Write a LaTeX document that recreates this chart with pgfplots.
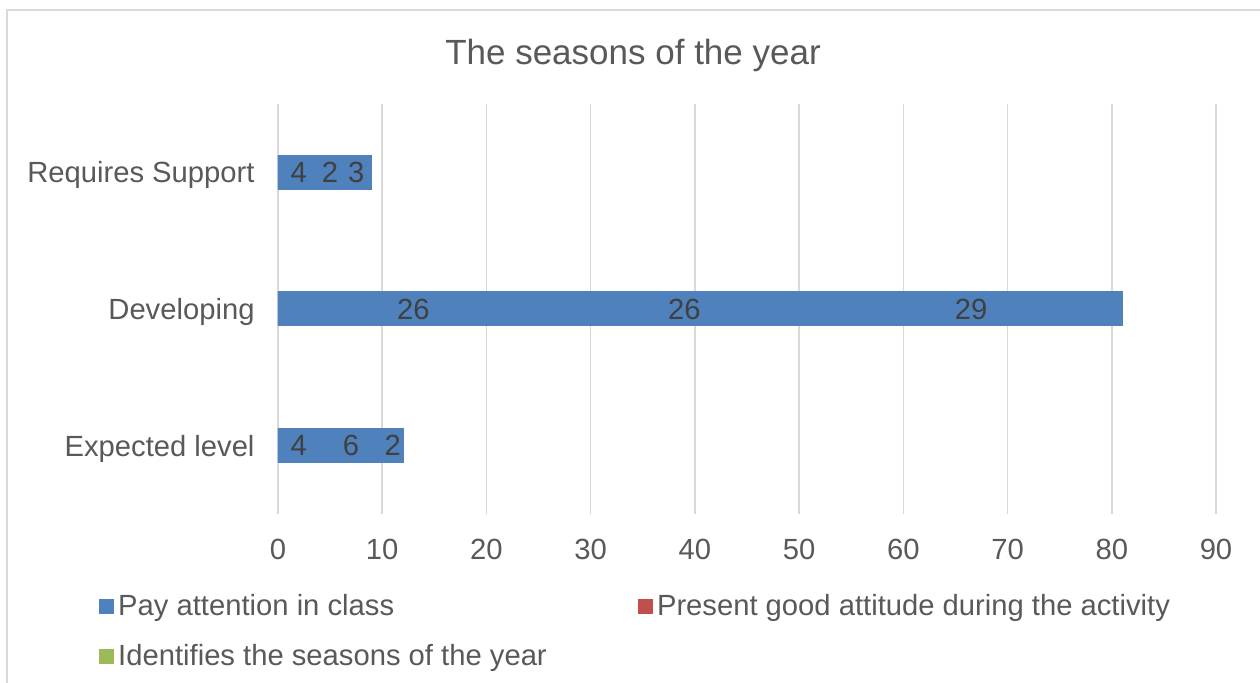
\documentclass[border=0pt]{standalone}
\usepackage{pgfplots}
\pgfplotsset{compat=1.18}
\usepackage{fontspec}
\setmainfont{Liberation Sans}
\definecolor{barblue}{HTML}{4F81BD}
\definecolor{barred}{HTML}{C0504D}
\definecolor{bargreen}{HTML}{9BBB59}
\definecolor{gridgray}{HTML}{D9D9D9}
\definecolor{textgray}{HTML}{595959}
\definecolor{labelgray}{HTML}{404040}
\begin{document}
\begin{tikzpicture}
\useasboundingbox (0,0) rectangle (630pt,341.5pt);
\fill[white] (0,0) rectangle (630pt,341.5pt);
\draw[gridgray, line width=1pt] (3.5pt,-20pt) rectangle (660pt,336.5pt);
\begin{axis}[
  at={(139pt,84.5pt)}, anchor=south west,
  scale only axis, width=469pt, height=205pt,
  xbar stacked, bar width=17pt,
  xmin=0, xmax=90, ymin=-0.5, ymax=2.5,
  ytick={0,1,2},
  yticklabels={Expected level, Developing, Requires Support},
  xtick={0,10,...,90},
  xmajorgrids, grid style={gridgray, line width=0.8pt},
  axis line style={draw=none},
  tick style={draw=none},
  font=\fontsize{14.6}{17}\selectfont,
  tick label style={text=textgray, font=\fontsize{14.6}{17}\selectfont},
  /pgf/number format/assume math mode=true,
  yticklabel style={xshift=-8.2pt, yshift=-1.5pt},
  xticklabel style={yshift=-9pt},
  title={The seasons of the year},
  title style={at={(0.3785,1.088)}, anchor=center, font=\fontsize{17.5}{21}\selectfont, text=textgray},
  legend columns=2,
  legend cell align=left,
  legend style={at={(-0.1908,-0.185)}, anchor=north west, draw=none, fill=none,
    inner sep=0pt, row sep=9pt, font=\fontsize{14.6}{17}\selectfont, text=textgray},
]
\addlegendimage{legend image code/.code={\fill[barblue] (0pt,-3.5pt) rectangle (7pt,3.5pt);}}
\addlegendentry{\makebox[258pt][l]{Pay attention in class}}
\addlegendimage{legend image code/.code={\fill[barred] (0pt,-3.5pt) rectangle (7pt,3.5pt);}}
\addlegendentry{Present good attitude during the activity}
\addlegendimage{legend image code/.code={\fill[bargreen] (0pt,-3.5pt) rectangle (7pt,3.5pt);}}
\addlegendentry{Identifies the seasons of the year}
% Pay attention in class
\addplot[fill=barblue, draw=barblue, line width=0.5pt, forget plot] coordinates {(4,0) (26,1) (4,2)};
% Present good attitude during the activity
\addplot[fill=barblue, draw=barblue, line width=0.5pt, forget plot] coordinates {(6,0) (26,1) (2,2)};
% Identifies the seasons of the year
\addplot[fill=barblue, draw=barblue, line width=0.5pt, forget plot] coordinates {(2,0) (29,1) (3,2)};
\end{axis}
\begin{axis}[
  at={(139pt,84.5pt)}, anchor=south west,
  scale only axis, width=469pt, height=205pt,
  xmin=0, xmax=90, ymin=-0.5, ymax=2.5,
  hide axis, clip=false,
]
\addplot[only marks, mark=none, nodes near coords, point meta=explicit symbolic,
  nodes near coords align=center,
  every node near coord/.append style={text=labelgray, font=\fontsize{14.6}{17}\selectfont}]
  coordinates {
  (2,0) [4] (7,0) [6] (11,0) [2]
  (13,1) [26] (39,1) [26] (66.5,1) [29]
  (2,2) [4] (5,2) [2] (7.5,2) [3]
  };
\end{axis}
\end{tikzpicture}
\end{document}
